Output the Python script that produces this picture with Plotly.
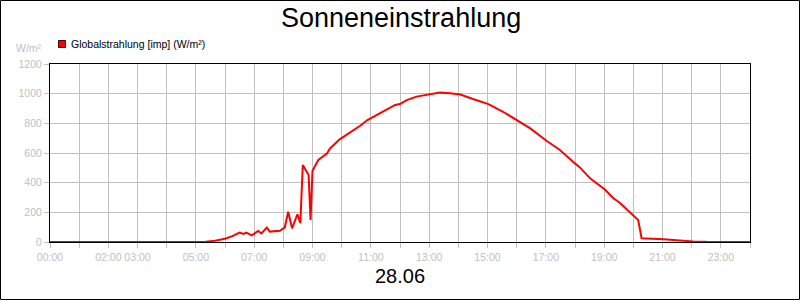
import plotly.graph_objects as go

# ---- data ----
times = ["00:00", "05:00", "05:20", "05:35", "05:50", "06:00", "06:15", "06:25", "06:30",
         "06:38", "06:44", "06:55", "07:08", "07:15", "07:26", "07:32", "07:53", "08:03",
         "08:10", "08:18", "08:29", "08:35", "08:40", "08:52", "08:56", "09:00", "09:12",
         "09:30", "09:36", "09:56", "10:17", "10:38", "10:53", "11:12", "11:32", "11:50",
         "12:00", "12:14", "12:34", "12:55", "13:22", "13:43", "14:04", "14:30", "15:02",
         "15:32", "16:04", "16:28", "17:02", "17:29", "18:00", "18:10", "18:31", "19:02",
         "19:19", "19:32", "20:10", "20:17", "21:02", "21:36", "22:03", "22:30", "23:00",
         "24:00"]
values = [0, 0, 2, 6, 14, 22, 40, 55, 63,
          54, 63, 45, 74, 58, 97, 70, 76, 99,
          204, 92, 187, 126, 519, 452, 148, 481, 553,
          598, 631, 692, 737, 784, 822, 856, 890, 924,
          930, 957, 980, 991, 1007, 1002, 994, 964, 930,
          878, 811, 766, 681, 620, 530, 503, 429, 352,
          295, 265, 148, 25, 18, 9, 4, 1, 0,
          0]
hour_ticks = list(range(25))
labelled = {"00:00", "02:00", "03:00", "05:00", "07:00", "09:00", "11:00", "13:00",
            "15:00", "17:00", "19:00", "21:00", "23:00"}
series_name = "Globalstrahlung [imp] (W/m²)"
title_text = "Sonneneinstrahlung"
date_label = "28.06"
unit_label = "W/m²"

x_hours = [int(t[:2]) + int(t[3:]) / 60 for t in times]
tick_text = [f"{h:02d}:00" if f"{h:02d}:00" in labelled else "" for h in hour_ticks]

# ---- layout geometry ----
W, H = 800, 300
L, R, T, B = 50, 50, 64, 58
pw, ph = W - L - R, H - T - B
def px(x):
    return (x - L) / pw
def py(y):
    return (H - B - y) / ph

FONT = "Liberation Sans, Arial, sans-serif"
GREY = "#c0c0c0"

fig = go.Figure()
fig.add_trace(go.Scatter(x=x_hours, y=values, mode="lines",
                         line=dict(color="#ff0000", width=2),
                         name=series_name, showlegend=False))

fig.update_layout(
    width=W, height=H,
    margin=dict(l=L, r=R, t=T, b=B),
    paper_bgcolor="white", plot_bgcolor="white",
    font=dict(family=FONT, size=11, color=GREY),
    xaxis=dict(range=[0, 24], tickvals=hour_ticks, ticktext=tick_text,
               showgrid=True, gridcolor=GREY, gridwidth=1,
               showline=True, linecolor="black", linewidth=1, mirror=True,
               ticks="outside", ticklen=5, tickcolor=GREY,
               tickfont=dict(family=FONT, size=10.5, color=GREY),
               zeroline=False),
    yaxis=dict(range=[0, 1200], tickvals=[0, 200, 400, 600, 800, 1000, 1200],
               showgrid=True, gridcolor=GREY, gridwidth=1,
               showline=True, linecolor="black", linewidth=1, mirror=True,
               ticks="outside", ticklen=5, tickcolor=GREY,
               tickfont=dict(family=FONT, size=10.5, color=GREY),
               zeroline=False),
    shapes=[
        dict(type="rect", xref="paper", yref="paper",
             x0=px(0.5), x1=px(799.5), y0=py(299.5), y1=py(0.5),
             line=dict(color="black", width=1), fillcolor="rgba(0,0,0,0)", layer="above"),
        dict(type="rect", xref="paper", yref="paper",
             x0=px(58.5), x1=px(65.5), y0=py(47.5), y1=py(40.5),
             line=dict(color="#400000", width=1), fillcolor="#ff0000"),
    ],
    annotations=[
        dict(text=title_text, xref="paper", yref="paper", x=px(401), y=py(18),
             xanchor="center", yanchor="middle", showarrow=False,
             font=dict(family=FONT, size=27, color="black")),
        dict(text=date_label, xref="paper", yref="paper", x=px(400), y=py(276),
             xanchor="center", yanchor="middle", showarrow=False,
             font=dict(family=FONT, size=20, color="black")),
        dict(text=series_name, xref="paper", yref="paper", x=px(69), y=py(44),
             xanchor="left", yanchor="middle", showarrow=False,
             font=dict(family=FONT, size=10.5, color="black")),
        dict(text=unit_label, xref="paper", yref="paper", x=px(44), y=py(48),
             xanchor="right", yanchor="middle", showarrow=False,
             font=dict(family=FONT, size=10.5, color=GREY)),
    ],
)

fig.write_html("out.html")
